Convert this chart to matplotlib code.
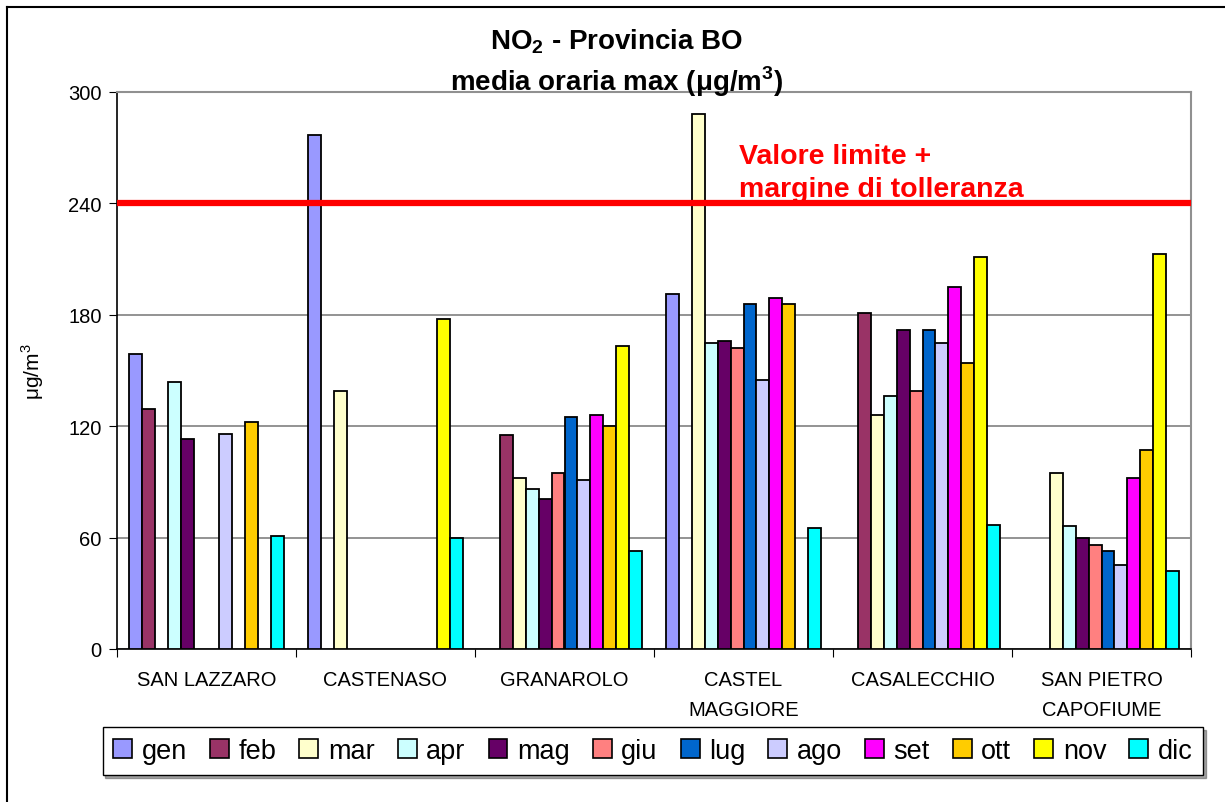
import matplotlib
matplotlib.use("Agg")
import matplotlib.pyplot as plt
import numpy as np
from matplotlib.lines import Line2D
from matplotlib.patches import Patch

plt.rcParams['font.family'] = ['Liberation Sans', 'DejaVu Sans']
plt.rcParams['mathtext.fontset'] = 'custom'
plt.rcParams['mathtext.rm'] = 'Liberation Sans'
plt.rcParams['mathtext.bf'] = 'Liberation Sans:bold'

stations = ["SAN LAZZARO", "CASTENASO", "GRANAROLO", "CASTEL\nMAGGIORE",
            "CASALECCHIO", "SAN PIETRO\nCAPOFIUME"]
months = ["gen", "feb", "mar", "apr", "mag", "giu", "lug", "ago", "set", "ott", "nov", "dic"]
colors = ["#9999FF", "#993366", "#FFFFCC", "#CCFFFF", "#660066", "#FF8080",
          "#0066CC", "#CCCCFF", "#FF00FF", "#FFCC00", "#FFFF00", "#00FFFF"]

nan = np.nan
# rows = stations, columns = months
san_lazzaro = [159, 129, nan, 144, 113, nan, nan, 116, nan, 122, nan, 61]
castenaso = [277, nan, 139, nan, nan, nan, nan, nan, nan, nan, 178, 60]
granarolo = [nan, 115, 92, 86, 81, 95, 125, 91, 126, 120, 163, 53]
castel_maggiore = [191, nan, 288, 165, 166, 162, 186, 145, 189, 186, nan, 65]
casalecchio = [nan, 181, 126, 136, 172, 139, 172, 165, 195, 154, 211, 67]
san_pietro = [nan, nan, 95, 66, 60, 56, 53, 45, 92, 107, 213, 42]
values = np.array([san_lazzaro, castenaso, granarolo, castel_maggiore, casalecchio, san_pietro])

limit_value = 240
yticks = [0, 60, 120, 180, 240, 300]

fig = plt.figure(figsize=(12.25, 8.03), dpi=100)
ax = fig.add_axes([117/1225, 1-650/803, (1191-117)/1225, (650-93)/803])

n_groups = len(stations)
n_m = len(months)
group_frac = 0.866
bw = group_frac / n_m
x = np.arange(n_groups)
for j in range(n_m):
    pos = x - group_frac/2 + bw*(j+0.5)
    vals = values[:, j]
    mask = ~np.isnan(vals)
    ax.bar(pos[mask], vals[mask], width=bw, color=colors[j], edgecolor="black",
           linewidth=1.3, zorder=3)

ax.set_xlim(-0.5, n_groups-0.5)
ax.set_ylim(0, 300)
ax.set_yticks(yticks)
ax.set_yticklabels([str(t) for t in yticks], fontsize=14.5)
ax.yaxis.grid(True, color="#808080", linewidth=1.2, zorder=0)
ax.set_axisbelow(True)

ax.set_xticks(np.arange(-0.5, n_groups, 1.0))
ax.set_xticklabels([])
ax.tick_params(axis='x', which='major', length=6, direction='out', color='black')
ax.set_xticks(x, minor=True)
ax.set_xticklabels(stations, minor=True, fontsize=14.5, linespacing=1.75, va='top')
ax.tick_params(axis='x', which='minor', length=0, pad=15)
ax.tick_params(axis='y', length=6, direction='out', pad=5)

for s in ['top', 'right']:
    ax.spines[s].set_color('#909090')
    ax.spines[s].set_linewidth(1.5)
ax.spines['left'].set_color('black')
ax.spines['bottom'].set_color('black')
ax.spines['left'].set_linewidth(1.2)
ax.spines['bottom'].set_linewidth(1.2)

ax.axhline(limit_value, color="#FF0000", linewidth=4.5, zorder=5)
ax.text(0.579, 0.885, "Valore limite +", transform=ax.transAxes, color="#FF0000",
        fontsize=20.5, fontweight='bold', ha='left', va='center')
ax.text(0.579, 0.826, "margine di tolleranza", transform=ax.transAxes, color="#FF0000",
        fontsize=20.5, fontweight='bold', ha='left', va='center')

ax.set_ylabel("μg/m$^3$", fontsize=15, labelpad=16)

fig.text(617/1225, 1-42/803, "NO$_{\\mathbf{2}}$ - Provincia BO", ha='center', va='center',
         fontsize=20, fontweight='bold')
fig.text(617/1225, 1-82/803, "media oraria max (μg/m$^{\\mathbf{3}}$)", ha='center', va='center',
         fontsize=20, fontweight='bold')

# outer frame (left and top visible)
fig.add_artist(Line2D([7/1225, 7/1225], [0, 1-8/803], transform=fig.transFigure,
                      color='black', linewidth=1.5))
fig.add_artist(Line2D([7/1225, 1], [1-8/803, 1-8/803], transform=fig.transFigure,
                      color='black', linewidth=1.5))

handles = [Patch(facecolor=c, edgecolor='black', linewidth=1.2) for c in colors]
leg = fig.legend(handles, months, ncol=12, loc='center',
                 bbox_to_anchor=(653/1225, 1-752/803), fontsize=19.5,
                 frameon=True, fancybox=False, shadow=True,
                 handlelength=0.7, handleheight=0.7, handletextpad=0.35,
                 columnspacing=0.85, borderpad=0.4)
leg.get_frame().set_edgecolor('black')
leg.get_frame().set_linewidth(1.0)

fig.savefig("out.png", dpi=100)
